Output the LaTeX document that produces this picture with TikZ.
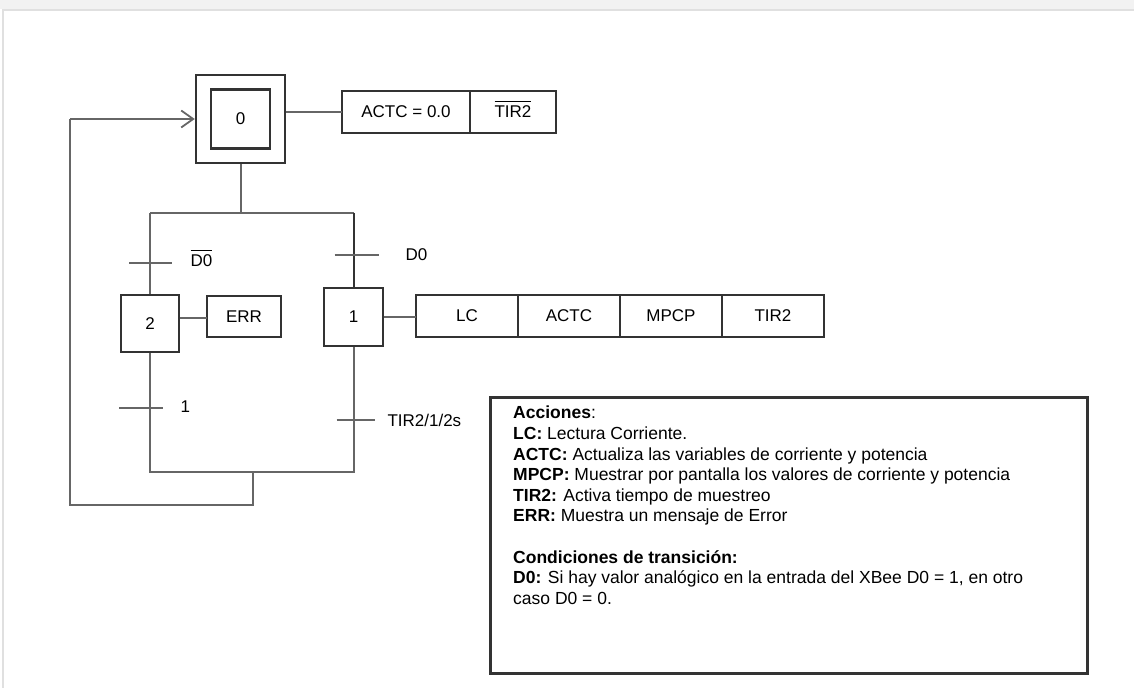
\documentclass[tikz,border=0pt]{standalone}
\usepackage{fontspec}
\setmainfont{Liberation Sans}
\usetikzlibrary{arrows.meta,positioning,calc}

\definecolor{boxline}{HTML}{333333}
\definecolor{wire}{HTML}{666666}

\tikzset{
    stepbox/.style={draw=boxline, line width=2.5pt, inner sep=0pt},
    actbox/.style={draw=boxline, line width=2.5pt, inner sep=0pt, outer sep=0pt, minimum height=42pt},
    wireline/.style={draw=wire, line width=2pt},
    tbar/.style={draw=wire, line width=2pt}
}

\begin{document}
\begin{tikzpicture}[
    x=1pt, y=-1pt,
    >={Straight Barb[length=12pt,width=17pt,line width=1.8pt]},
    font=\fontsize{17}{20}\selectfont
]
    \useasboundingbox (0,0) rectangle (1134,688);

    % --- marco de la captura ---
    \fill[black!5] (0,0) rectangle (1134,9);
    \draw[black!12, line width=1.5pt] (3,688) -- (3,10) -- (1134,10);

    % --- etapas ---
    % etapa inicial 0 (doble recuadro)
    \node[stepbox, minimum width=89pt, minimum height=88pt] (s0o) at (240.5,119) {};
    \node[stepbox, minimum size=59pt] (s0) at (240.5,119) {0};
    % etapas 1 y 2
    \node[stepbox, minimum width=59pt, minimum height=58pt] (s1) at (353.5,317) {1};
    \node[stepbox, minimum width=58pt, minimum height=57pt] (s2) at (150,323.5) {2};

    % --- acciones ---
    \node[actbox, minimum width=128pt] (a0a) at (406,112) {ACTC = 0.0};
    \node[actbox, minimum width=86pt, right=0pt of a0a] (a0b) {$\overline{\mbox{\strut TIR2}}$};

    \node[actbox, minimum width=74pt, minimum height=41pt] (err) at (244,316.5) {ERR};

    \node[actbox, minimum width=102pt] (lc) at (467,316) {LC};
    \node[actbox, minimum width=102pt, right=0pt of lc] (actc) {ACTC};
    \node[actbox, minimum width=102pt, right=0pt of actc] (mpcp) {MPCP};
    \node[actbox, minimum width=102pt, right=0pt of mpcp] (tir) {TIR2};

    % --- coordenadas de la red ---
    \coordinate (dM) at (240.5,213);
    \coordinate (dL) at (150,213);
    \coordinate (dR) at (353.5,213);
    \coordinate (cL) at (150,472);
    \coordinate (cR) at (353.5,472);
    \coordinate (cM) at (253,472);
    \coordinate (rB) at (253,505);
    \coordinate (rL) at (70,505);
    \coordinate (rT) at (70,119);

    % --- enlaces ---
    \draw[wireline] (s0o.south) -- (dM);
    \draw[wireline] (dL) -- (dR);
    \draw[wireline] (dL) -- (s2.north);
    \draw[wireline, draw=boxline] (dR) -- (s1.north);
    \draw[wireline] (s2.south) -- (cL) -- (cR) -- (s1.south);
    \draw[wireline] (cM) -- (rB) -- (rL) -- (rT);
    \draw[wireline, ->] (rT) -- (s0o.west);

    % enlaces a las acciones
    \draw[wireline] (a0a.west -| s0o.east) -- (a0a.west);
    \draw[wireline] (s2.east |- 0,318) -- (err.west |- 0,318);
    \draw[wireline] (s1.east) -- (lc.west |- s1.east);

    % --- transiciones ---
    \coordinate (t2) at (150,263);
    \coordinate (t1) at (353.5,255);
    \coordinate (t21) at (150,408);
    \coordinate (t10) at (353.5,420);

    \draw[tbar] ($(t2)+(-21,0)$) -- ($(t2)+(22,0)$);
    \draw[tbar] ($(t1)+(-19,0)$) -- ($(t1)+(25,0)$);
    \draw[tbar] ($(t21)+(-31,0)$) -- ($(t21)+(13,0)$);
    \draw[tbar] ($(t10)+(-17,0)$) -- ($(t10)+(21,0)$);

    \node[anchor=west] (c2) at (187,261) {$\overline{\mbox{\strut D0}}$};
    \node[anchor=west] (c1) at (402,255) {D0};
    \node[anchor=west] (c21) at (177,407) {1};
    \node[anchor=west] (c10) at (384,420) {TIR2/1/2s};

    % --- leyenda ---
    \node[draw=boxline, line width=2.5pt, minimum width=597pt, minimum height=276pt,
          anchor=north west] (leg) at (489,396) {};
    \node[anchor=north west, align=left, inner sep=0pt,
          font=\fontsize{17.5}{20.6}\selectfont] (legtxt) at ([xshift=24pt,yshift=-10pt]leg.north west) {%
        \textbf{Acciones}:\\
        \textbf{LC:} Lectura Corriente.\\
        \textbf{ACTC:} Actualiza las variables de corriente y potencia\\
        \textbf{MPCP:} Muestrar por pantalla los valores de corriente y potencia\\
        \textbf{TIR2:} Activa tiempo de muestreo\\
        \textbf{ERR:} Muestra un mensaje de Error\\[20.6pt]
        \textbf{Condiciones de transición:}\\
        \textbf{D0:} Si hay valor analógico en la entrada del XBee D0 = 1, en otro\\
        caso D0 = 0.};
\end{tikzpicture}
\end{document}
